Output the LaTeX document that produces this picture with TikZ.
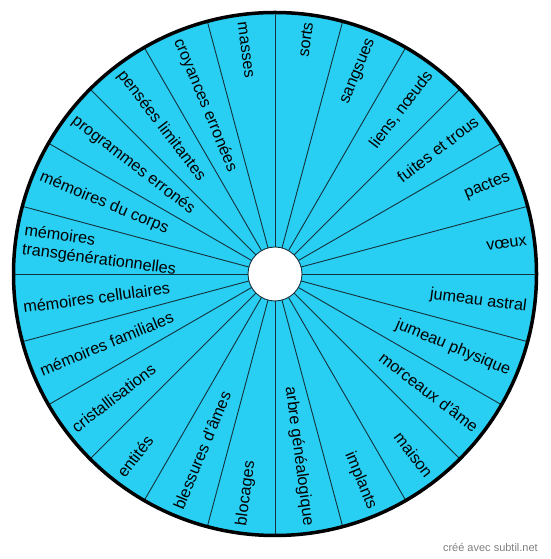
\documentclass[tikz,border=0pt]{standalone}
\usepackage{fontspec}
\setmainfont{Liberation Sans}
\definecolor{wheelcyan}{RGB}{41,206,243}
\definecolor{spokecol}{RGB}{20,50,60}
\tikzset{
  wheelfill/.style={fill=wheelcyan},
  spoke/.style={draw=spokecol, line width=0.9pt},
  rim/.style={draw=black, line width=3.5pt},
  hub/.style={draw=spokecol, fill=white, line width=0.9pt},
  lbl/.style={inner sep=0pt, font=\fontsize{16.2}{18.5}\selectfont, align=left},
  credit/.style={inner sep=0pt, font=\fontsize{11}{13}\selectfont, text=black!50}
}
\begin{document}
\begin{tikzpicture}[x=1pt,y=1pt]
\useasboundingbox (0,0) rectangle (550,559);
\coordinate (c) at (275,285);
\fill[wheelfill] (c) circle (261.5);
\foreach \i in {0,...,23}{
  \coordinate (s\i) at ([shift={(90-15*\i:261.5)}]c);
  \draw[spoke] (c) -- (s\i);
}
% right half labels (reading outward)
\foreach \a/\t/\n in {82.5/sorts/r1, 67.5/sangsues/r2, 52.5/{liens, nœuds}/r3, 37.5/fuites et trous/r4, 22.5/pactes/r5, 7.5/vœux/r6, -7.5/jumeau astral/r7, -22.5/jumeau physique/r8, -37.5/morceaux d'âme/r9, -52.5/maison/r10, -67.5/implants/r11, -82.5/arbre généalogique/r12}{
  \node[lbl, anchor=east, rotate=\a] (\n) at ([shift={(\a:254)}]c) {\t};
}
% left half labels (reading inward)
\foreach \a/\t/\n in {97.5/masses/l1, 112.5/croyances erronées/l2, 127.5/pensées limitantes/l3, 142.5/programmes erronés/l4, 157.5/mémoires du corps/l5, 187.5/mémoires cellulaires/l7, 202.5/mémoires familiales/l8, 217.5/cristallisations/l9, 232.5/entités/l10, 247.5/blessures d'âmes/l11, 262.5/blocages/l12}{
  \node[lbl, anchor=west, rotate=\a-180] (\n) at ([shift={(\a:254)}]c) {\t};
}
\node[lbl, anchor=west, rotate=-7.5] (l6) at ([shift={(172.5:254)}]c) {mémoires\\transgénérationnelles};
\draw[hub] (c) circle (27);
\draw[rim] (c) circle (261.5);
\node[credit, anchor=base east] (cr) at (538,8) {créé avec subtil.net};
\end{tikzpicture}
\end{document}
